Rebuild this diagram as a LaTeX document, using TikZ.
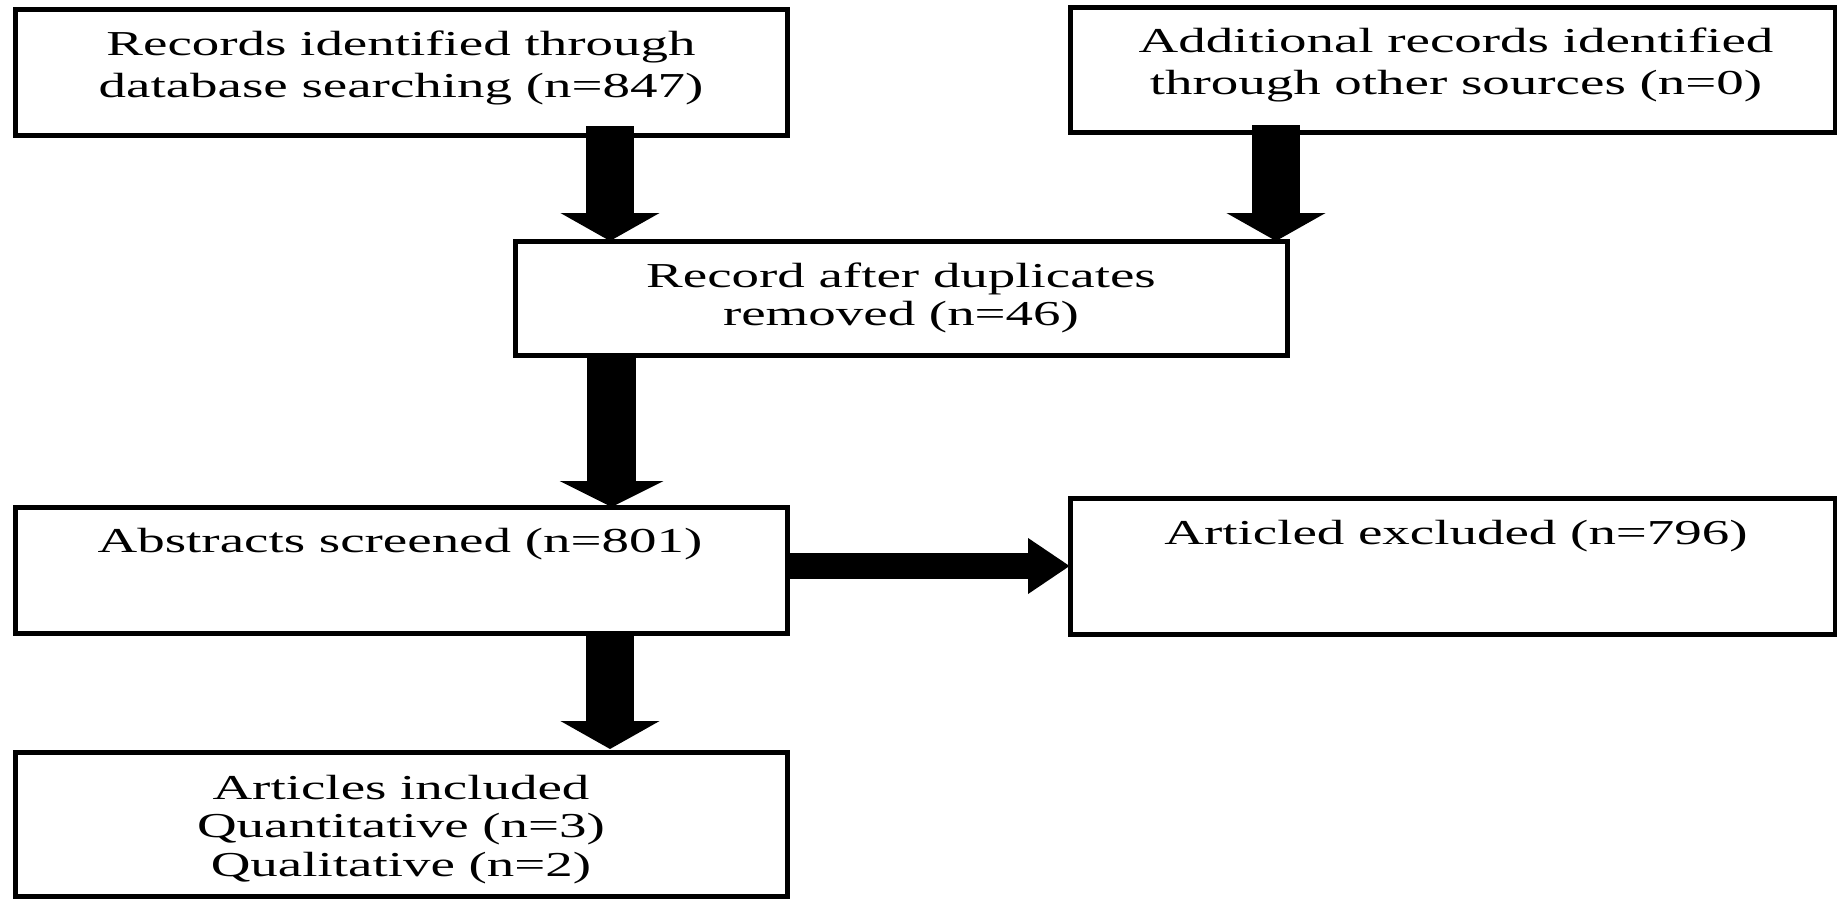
\documentclass[tikz,border=0pt]{standalone}
\usepackage{fontspec}
\setmainfont{Liberation Serif}[FakeStretch=1.57]
\usetikzlibrary{arrows.meta}
\begin{document}
\begin{tikzpicture}[x=1pt,y=-1pt,
  box/.style={draw=black, line width=5pt, fill=white, inner sep=0pt, outer sep=0pt},
  txt/.style={inner sep=0pt, anchor=base, text=black, font=\fontsize{35pt}{41pt}\selectfont},
  vblock/.style={draw=black, line width=48pt, -{Triangle[length=28pt,width=98pt]}},
  hblock/.style={draw=black, line width=26pt, -{Triangle[length=42pt,width=53pt]}}]
\useasboundingbox (0,0) rectangle (1837,899);
% boxes
\node[box, minimum width=772pt, minimum height=125pt] (b1) at (401,72.5) {};
\node[box, minimum width=765pt, minimum height=124pt] (b2) at (1452.5,70) {};
\node[box, minimum width=772pt, minimum height=114pt] (b3) at (901,298) {};
\node[box, minimum width=772pt, minimum height=126pt] (b4) at (401,570) {};
\node[box, minimum width=765pt, minimum height=136pt] (b5) at (1452.5,566) {};
\node[box, minimum width=772pt, minimum height=144pt] (b6) at (401,824) {};
% texts
\node[txt] (t1a) at (401,56) {Records identified through};
\node[txt] (t1b) at (401,97) {database searching (n=847)};
\node[txt] (t2a) at (1456,53) {Additional records identified};
\node[txt] (t2b) at (1456,95) {through other sources (n=0)};
\node[txt] (t3a) at (901,287) {Record after duplicates};
\node[txt] (t3b) at (901,325) {removed (n=46)};
\node[txt] (t4) at (400,552) {Abstracts screened (n=801)};
\node[txt] (t5) at (1456,544) {Articled excluded (n=796)};
\node[txt] (t6a) at (401,799) {Articles included};
\node[txt] (t6b) at (401,837) {Quantitative (n=3)};
\node[txt] (t6c) at (401,876) {Qualitative (n=2)};
% arrow axes
\coordinate (c1) at (610,0);
\coordinate (c2) at (1276,0);
\coordinate (c3) at (611.5,0);
\coordinate (c5) at (0,566);
% arrows
\draw[vblock, shorten <=-9pt] (b1.south -| c1) -- (b3.north -| c1);
\draw[vblock, shorten <=-7pt] (b2.south -| c2) -- (b3.north -| c2);
\draw[vblock, line width=49pt, -{Triangle[length=26pt,width=103pt]}] (b3.south -| c3) -- (b4.north -| c3);
\draw[vblock, shorten >=3pt] (b4.south -| c1) -- (b6.north -| c1);
\draw[hblock] (b4.east |- c5) -- (b5.west |- c5);
\end{tikzpicture}
\end{document}
